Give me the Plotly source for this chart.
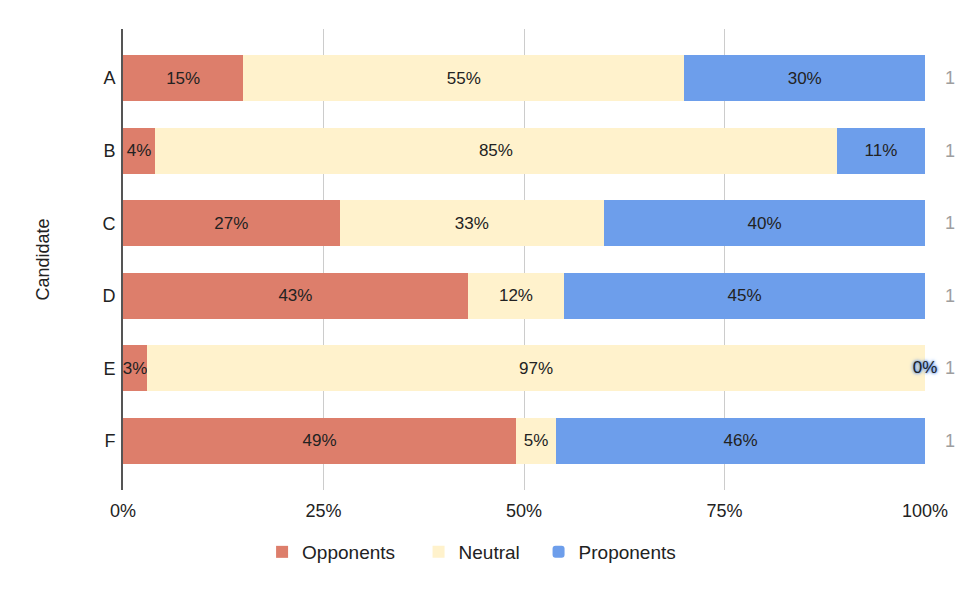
import plotly.graph_objects as go

# region Data
CANDIDATES = ["A", "B", "C", "D", "E", "F"]
OPPONENTS = [0.15, 0.04, 0.27, 0.43, 0.03, 0.49]
NEUTRAL = [0.55, 0.85, 0.33, 0.12, 0.97, 0.05]
PROPONENTS = [0.30, 0.11, 0.40, 0.45, 0.00, 0.46]
X_TICKS = [0, 0.25, 0.5, 0.75, 1.0]
X_TICK_LABELS = ["0%", "25%", "50%", "75%", "100%"]
# endregion

FONT = "Arial, 'Liberation Sans', sans-serif"
BAR_FS = 17
AXIS_FS = 18
LEGEND_FS = 19
TEXT_COLOR = "#222222"
SERIES = [
    ("Opponents", OPPONENTS, "#dd7e6b"),
    ("Neutral", NEUTRAL, "#fff2cc"),
    ("Proponents", PROPONENTS, "#6d9eeb"),
]
# one legend box per series so the entries can be spaced like the original
LEGEND_IDS = ["legend", "legend2", "legend3"]
LEGEND_X = [0.273, 0.436, 0.561]

fig = go.Figure()

left = [0.0] * len(CANDIDATES)
zero_x, zero_y, zero_txt, zero_col = [], [], [], []
for (name, vals, color), lg in zip(SERIES, LEGEND_IDS):
    labels = [f"{v:.0%}" if v > 0 else "" for v in vals]
    fig.add_trace(go.Bar(
        name=name,
        legend=lg,
        y=CANDIDATES,
        x=vals,
        orientation="h",
        marker=dict(color=color, line=dict(width=0),
                    cornerradius=2 if name == "Proponents" else 0),
        text=labels,
        textposition="inside",
        insidetextanchor="middle",
        textangle=0,
        constraintext="none",
        textfont=dict(size=BAR_FS, color=TEXT_COLOR, family=FONT),
        hoverinfo="skip",
    ))
    # zero-width segments still get a label, sitting at the bar end
    for i, v in enumerate(vals):
        if v == 0:
            zero_x.append(left[i])
            zero_y.append(CANDIDATES[i])
            zero_txt.append(f"{v:.0%}")
            zero_col.append(color)
        left[i] += v

if zero_x:
    halo = zero_col[0]
    fig.add_trace(go.Scatter(
        x=zero_x, y=zero_y, text=zero_txt,
        mode="text",
        textposition="middle center",
        textfont=dict(size=BAR_FS, color=TEXT_COLOR, family=FONT,
                      shadow=f"0px 0px 2px {halo}, 0px 0px 3px {halo}, 0px 0px 4px {halo}"),
        showlegend=False,
        hoverinfo="skip",
        cliponaxis=False,
    ))

# totals to the right of each bar
totals = left
for cat, tot in zip(CANDIDATES, totals):
    fig.add_annotation(
        x=tot, y=cat, xref="x", yref="y",
        text=f"{tot:g}",
        showarrow=False,
        xanchor="left",
        xshift=18,
        font=dict(size=AXIS_FS, color="#9e9e9e", family=FONT),
    )

legends = {}
for lg, lx in zip(LEGEND_IDS, LEGEND_X):
    legends[lg] = dict(
        orientation="h",
        xref="container", yref="container",
        x=lx, y=1 - 552 / 594,
        xanchor="left", yanchor="middle",
        font=dict(size=LEGEND_FS, color=TEXT_COLOR, family=FONT),
        itemwidth=30,
        bgcolor="rgba(0,0,0,0)",
    )

fig.update_layout(
    width=960,
    height=594,
    barmode="stack",
    bargap=0.367,
    plot_bgcolor="white",
    paper_bgcolor="white",
    margin=dict(l=123, r=26, t=29, b=104),
    font=dict(family=FONT, size=AXIS_FS, color=TEXT_COLOR),
    showlegend=True,
    **legends,
    xaxis=dict(
        range=[0, 1],
        tickvals=X_TICKS,
        ticktext=X_TICK_LABELS,
        showgrid=True,
        gridcolor="#cccccc",
        gridwidth=1,
        zeroline=False,
        showline=False,
        ticks="",
        ticklabelstandoff=8,
        tickfont=dict(size=AXIS_FS, color=TEXT_COLOR, family=FONT),
    ),
    yaxis=dict(
        categoryorder="array",
        categoryarray=CANDIDATES,
        range=[5.675, -0.675],
        showgrid=False,
        zeroline=False,
        showline=True,
        linecolor="#555555",
        linewidth=2,
        ticks="",
        ticklabelstandoff=2,
        tickfont=dict(size=AXIS_FS, color=TEXT_COLOR, family=FONT),
        title=dict(text="Candidate", standoff=48,
                   font=dict(size=AXIS_FS, color=TEXT_COLOR, family=FONT)),
    ),
)

# drop the default body margin so the 960x594 figure fills the window exactly
fig.write_html(
    "out.html",
    config={"displayModeBar": False},
    post_script="document.body.style.margin='0px';",
)
